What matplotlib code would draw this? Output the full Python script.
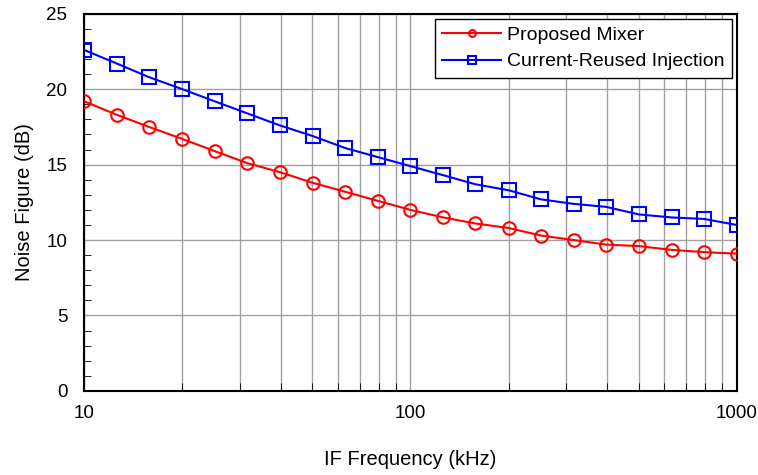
import matplotlib
matplotlib.use("Agg")
import matplotlib.pyplot as plt
from matplotlib.ticker import FixedLocator, MultipleLocator, NullFormatter, ScalarFormatter

plt.rcParams["font.family"] = ["Liberation Sans", "DejaVu Sans"]

# IF frequency points (kHz), 10 per decade
freq_khz = [10, 12.6, 15.8, 20, 25.1, 31.6, 39.8, 50.1, 63.1, 79.4,
            100, 126, 158, 200, 251, 316, 398, 501, 631, 794, 1000]

# Noise figure (dB)
nf_proposed = [19.2, 18.3, 17.5, 16.7, 15.9, 15.1, 14.5, 13.8, 13.2, 12.6,
               12.0, 11.5, 11.1, 10.8, 10.3, 10.0, 9.7, 9.6, 9.35, 9.2, 9.1]
nf_reused = [22.6, 21.7, 20.8, 20.0, 19.2, 18.4, 17.6, 16.9, 16.1, 15.5,
             14.9, 14.3, 13.7, 13.3, 12.7, 12.4, 12.2, 11.7, 11.5, 11.4, 11.0]

fig = plt.figure(figsize=(7.58, 4.75), dpi=100)
ax = fig.add_axes([0.111, 0.177, 0.861, 0.794])

ax.plot(freq_khz, nf_proposed, color="#ff0000", lw=1.5, marker="o", ms=9,
        mfc="none", mec="#ff0000", mew=1.5, label="Proposed Mixer", zorder=3)
ax.plot(freq_khz, nf_reused, color="#0000ff", lw=1.5, marker="s", ms=10,
        mfc="none", mec="#0000ff", mew=1.5, label="Current-Reused Injection", zorder=3)

ax.set_xscale("log")
ax.set_xlim(10, 1000)
ax.set_ylim(0, 25)
ax.xaxis.set_major_locator(FixedLocator([10, 100, 1000]))
ax.xaxis.set_major_formatter(ScalarFormatter())
ax.xaxis.set_minor_formatter(NullFormatter())
ax.yaxis.set_major_locator(MultipleLocator(5))
ax.yaxis.set_minor_locator(MultipleLocator(1))

ax.grid(True, which="major", color="#a0a0a0", lw=1)
ax.grid(True, which="minor", axis="x", color="#a0a0a0", lw=1)
ax.set_axisbelow(True)

ax.tick_params(which="both", direction="in", labelsize=13.5, color="black")
ax.tick_params(axis="x", which="major", length=0, pad=10)
ax.tick_params(axis="x", which="minor", length=6)
ax.tick_params(axis="y", which="major", length=0, pad=12)
ax.tick_params(axis="y", which="minor", length=5)
for side in ax.spines.values():
    side.set_linewidth(1.5)
    side.set_color("black")

ax.set_xlabel("IF Frequency (kHz)", fontsize=14.5, labelpad=20)
ax.set_ylabel("Noise Figure (dB)", fontsize=14.5, labelpad=9)

leg = ax.legend(loc="upper right", fontsize=14, markerscale=0.55, fancybox=False,
                framealpha=1, edgecolor="black", borderaxespad=0.25,
                handlelength=3.0, handletextpad=0.3, borderpad=0.4,
                labelspacing=0.45)
leg.get_frame().set_linewidth(1)

fig.savefig("out.png", dpi=100)
